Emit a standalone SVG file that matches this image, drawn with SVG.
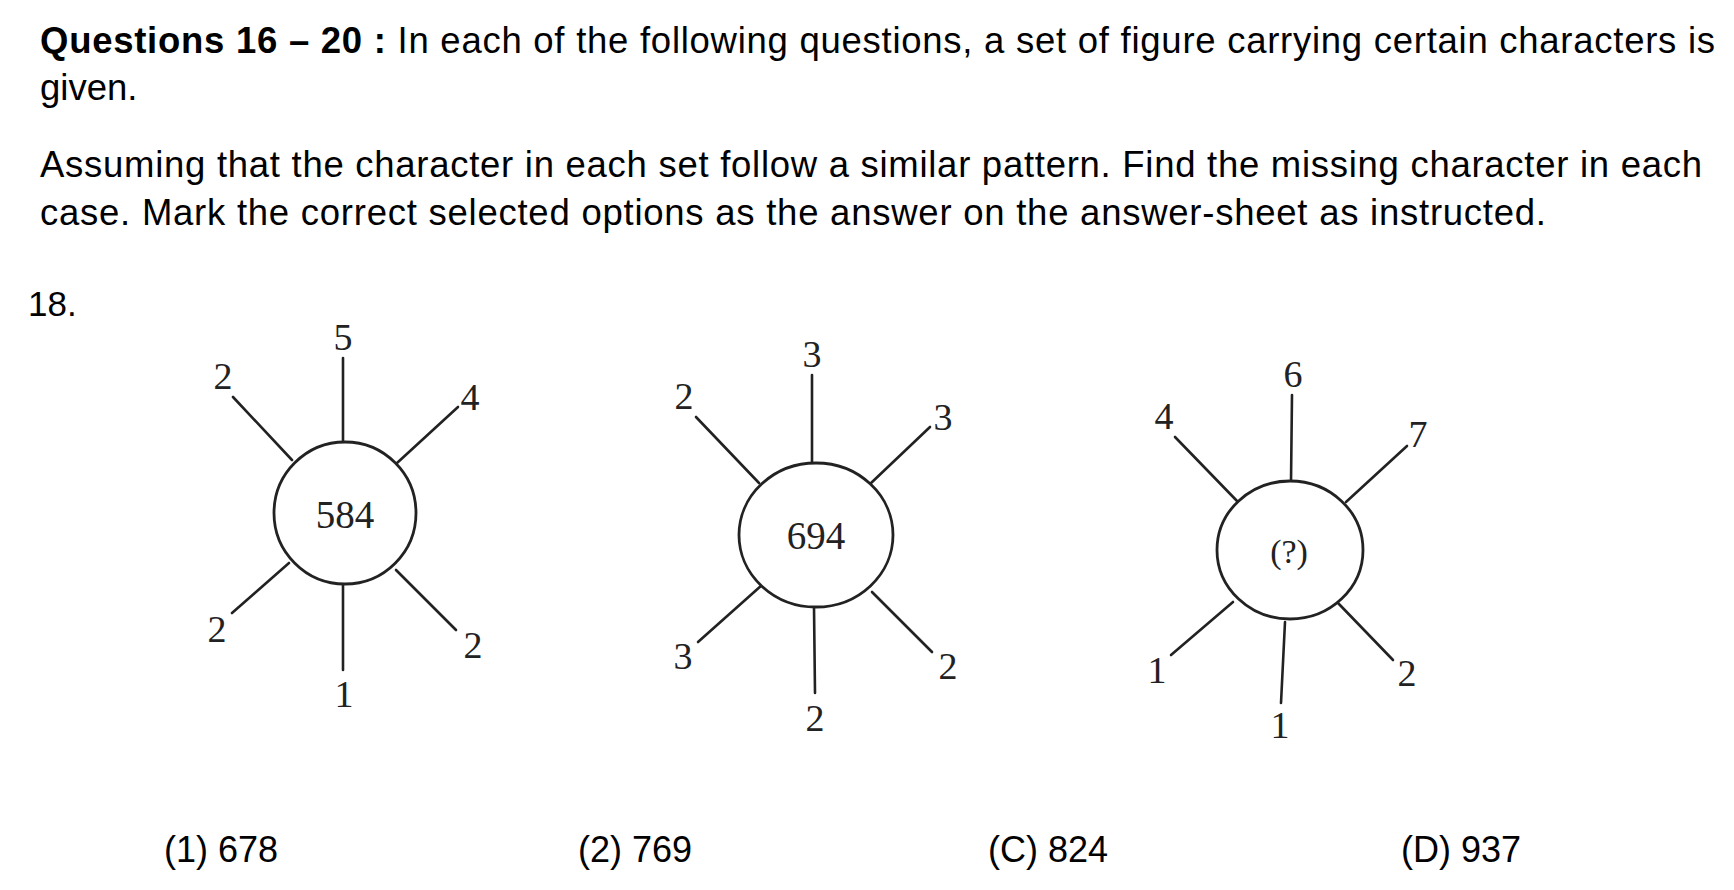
<svg xmlns="http://www.w3.org/2000/svg" width="1734" height="890" viewBox="0 0 1734 890">
<style>
.hd{font-family:"Liberation Sans",Arial,sans-serif;font-size:36.5px;fill:#000}
.b{font-weight:bold}
.opt{font-family:"Liberation Sans",Arial,sans-serif;font-size:36px;fill:#000}
.num{font-family:"Liberation Serif","Times New Roman",serif;font-size:38px;fill:#222;text-anchor:middle}
.ctr{font-family:"Liberation Serif","Times New Roman",serif;font-size:39px;fill:#222;text-anchor:middle}
.ln{stroke:#222;stroke-width:2.6;fill:none;stroke-linecap:round}
.nd{stroke:#222;stroke-width:2.8;fill:#fff}
</style>
<rect width="1734" height="890" fill="#fff"/>
<g id="header">
<text class="hd" x="40" y="53" textLength="1675" lengthAdjust="spacing"><tspan class="b">Questions 16 – 20 :</tspan> In each of the following questions, a set of figure carrying certain characters is</text>
<text class="hd" x="40" y="100">given.</text>
<text class="hd" x="40" y="177" textLength="1662" lengthAdjust="spacing">Assuming that the character in each set follow a similar pattern. Find the missing character in each</text>
<text class="hd" x="40" y="225" textLength="1506" lengthAdjust="spacing">case. Mark the correct selected options as the answer on the answer-sheet as instructed.</text>
<text class="hd" x="28" y="316" style="font-size:35px">18.</text>
</g>
<g id="connectors">
<line class="ln" x1="343" y1="358" x2="343" y2="443"/>
<line class="ln" x1="233" y1="397" x2="292" y2="460"/>
<line class="ln" x1="458" y1="407" x2="397" y2="463"/>
<line class="ln" x1="289" y1="563" x2="232" y2="613"/>
<line class="ln" x1="343" y1="585" x2="343" y2="670"/>
<line class="ln" x1="396" y1="570" x2="456" y2="630"/>

<line class="ln" x1="812" y1="375" x2="812" y2="463"/>
<line class="ln" x1="696" y1="417" x2="759" y2="483"/>
<line class="ln" x1="930" y1="427" x2="870" y2="484"/>
<line class="ln" x1="762" y1="585" x2="698" y2="642"/>
<line class="ln" x1="814" y1="607" x2="815" y2="693"/>
<line class="ln" x1="872" y1="592" x2="932" y2="652"/>

<line class="ln" x1="1292" y1="395" x2="1291" y2="482"/>
<line class="ln" x1="1175" y1="437" x2="1238" y2="502"/>
<line class="ln" x1="1407" y1="446" x2="1346" y2="502"/>
<line class="ln" x1="1233" y1="602" x2="1171" y2="655"/>
<line class="ln" x1="1285" y1="622" x2="1281" y2="703"/>
<line class="ln" x1="1338" y1="603" x2="1393" y2="660"/>
</g>
<g id="node1">
<circle class="nd" cx="345" cy="513" r="71"/>
<text class="ctr" x="345" y="528">584</text>
</g>
<g id="labels1">
<text class="num" x="343" y="350">5</text>
<text class="num" x="223" y="389">2</text>
<text class="num" x="470" y="410">4</text>
<text class="num" x="217" y="642">2</text>
<text class="num" x="473" y="658">2</text>
<text class="num" x="344" y="707">1</text>
</g>
<g id="node2">
<ellipse class="nd" cx="816" cy="535" rx="77" ry="72"/>
<text class="ctr" x="816" y="549">694</text>
</g>
<g id="labels2">
<text class="num" x="812" y="367">3</text>
<text class="num" x="684" y="409">2</text>
<text class="num" x="943" y="430">3</text>
<text class="num" x="683" y="669">3</text>
<text class="num" x="948" y="679">2</text>
<text class="num" x="815" y="731">2</text>
</g>
<g id="node3">
<ellipse class="nd" cx="1290" cy="550" rx="73" ry="69"/>
<text class="ctr" x="1289" y="563" style="font-size:34px">(?)</text>
</g>
<g id="labels3">
<text class="num" x="1293" y="387">6</text>
<text class="num" x="1164" y="429">4</text>
<text class="num" x="1418" y="447">7</text>
<text class="num" x="1157" y="683">1</text>
<text class="num" x="1407" y="686">2</text>
<text class="num" x="1280" y="738">1</text>
</g>
<g id="options">
<text class="opt" x="164" y="862">(1) 678</text>
<text class="opt" x="578" y="862">(2) 769</text>
<text class="opt" x="988" y="862">(C) 824</text>
<text class="opt" x="1401" y="862">(D) 937</text>
</g>
</svg>
